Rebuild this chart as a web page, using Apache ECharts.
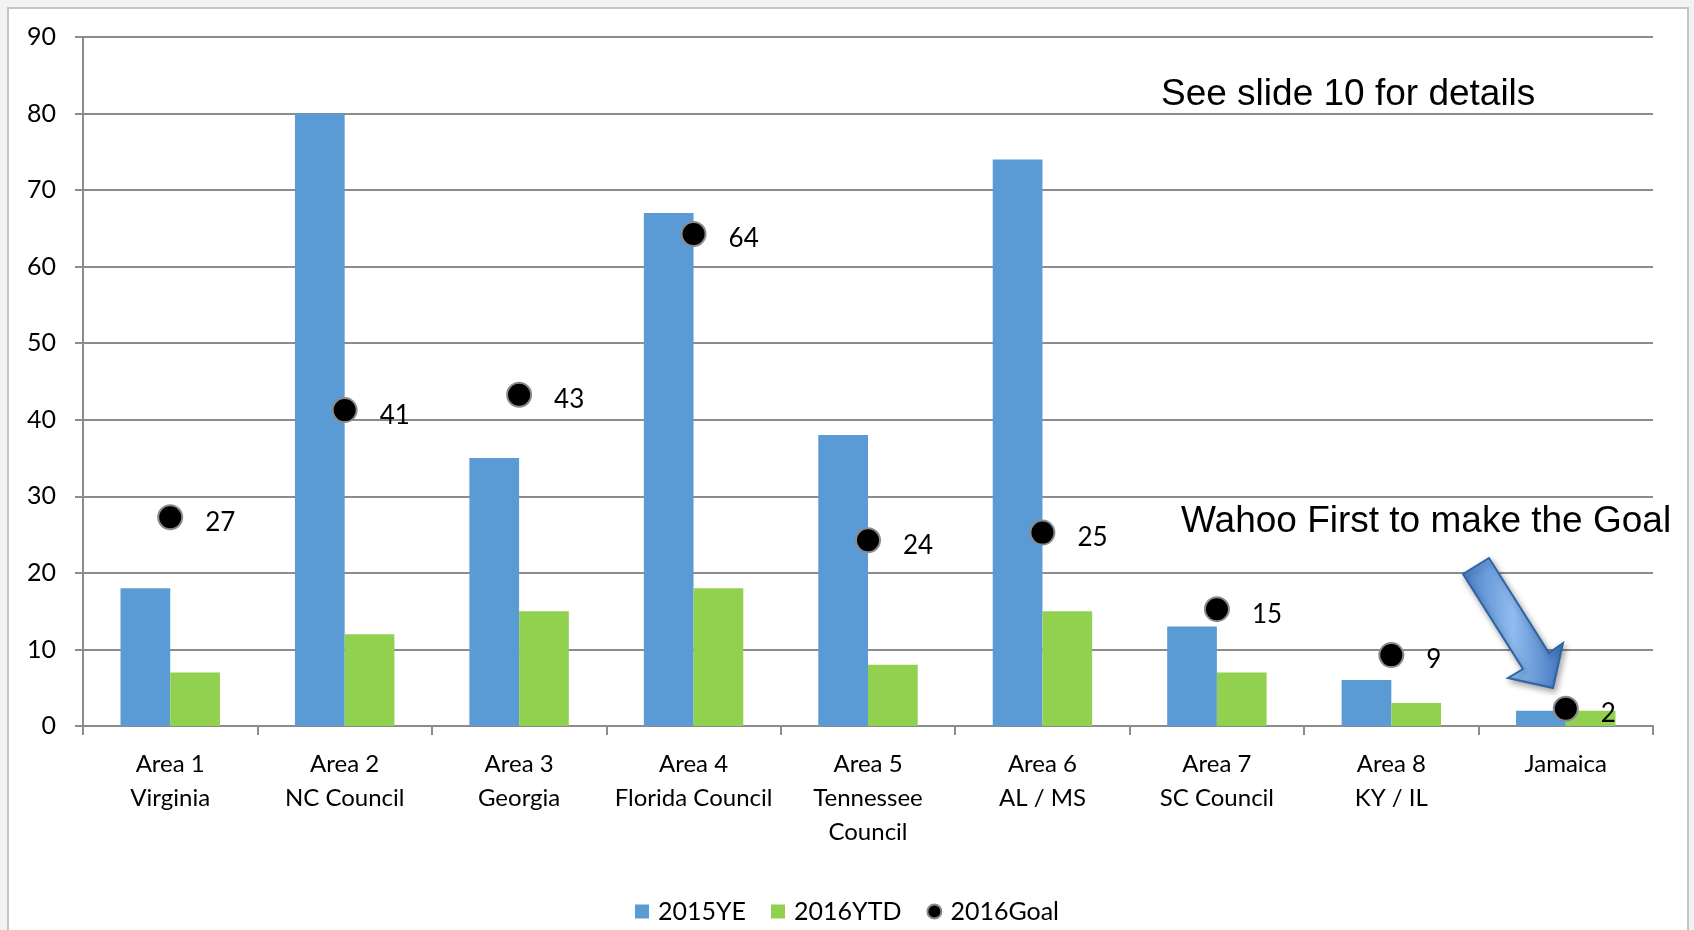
<!DOCTYPE html>
<html>
<head>
<meta charset="utf-8">
<script src="https://cdn.jsdelivr.net/npm/echarts@6/dist/echarts.min.js"></script>
<style>
html,body{margin:0;padding:0;background:#f2f2f2;}
#c{width:1694px;height:930px;}
</style>
</head>
<body>
<div id="c"></div>
<script>
const categories = ['Area 1\nVirginia','Area 2\nNC Council','Area 3\nGeorgia','Area 4\nFlorida Council','Area 5\nTennessee\nCouncil','Area 6\nAL / MS','Area 7\nSC Council','Area 8\nKY / IL','Jamaica'];
const ye2015 = [18, 80, 35, 67, 38, 74, 13, 6, 2];
const ytd2016 = [7, 12, 15, 18, 8, 15, 7, 3, 2];
const goal2016 = [27, 41, 43, 64, 24, 25, 15, 9, 2];
const yTicks = [0, 10, 20, 30, 40, 50, 60, 70, 80, 90];

const FONT = 'Lato';
const chart = echarts.init(document.getElementById('c'));
const axisGray = '#8c8c8c';
chart.setOption({
  backgroundColor: '#f2f2f2',
  animation: false,
  grid: {left: 83, right: 41, top: 37, bottom: 204},
  legend: {
    bottom: 1, left: 'center',
    itemWidth: 14, itemHeight: 14, itemGap: 25,
    textStyle: {fontFamily: FONT, fontSize: 25, color: '#000', padding: [0, 0, 0, 4]},
    data: [
      {name: '2015YE', icon: 'rect'},
      {name: '2016YTD', icon: 'rect'},
      {name: '2016Goal', icon: 'circle', itemStyle: {color: '#000', opacity: 1, borderColor: '#8a8a8a', borderWidth: 2}}
    ]
  },
  xAxis: {
    type: 'category', data: categories,
    axisLine: {lineStyle: {color: axisGray, width: 2}},
    axisTick: {show: true, length: 9, lineStyle: {color: axisGray, width: 2}},
    axisLabel: {fontFamily: FONT, fontSize: 24, color: '#000', lineHeight: 34, margin: 21, interval: 0}
  },
  yAxis: {
    type: 'value', min: yTicks[0], max: yTicks[yTicks.length - 1], interval: 10,
    axisLine: {show: true, lineStyle: {color: axisGray, width: 2}},
    axisTick: {show: true, length: 8, lineStyle: {color: axisGray, width: 2}},
    splitLine: {lineStyle: {color: axisGray, width: 2}},
    axisLabel: {fontFamily: FONT, fontSize: 25, color: '#000', margin: 27}
  },
  series: [
    {name: '2015YE', type: 'bar', data: ye2015, barGap: '0%', barCategoryGap: '43%', itemStyle: {color: '#5B9BD5'}},
    {name: '2016YTD', type: 'bar', data: ytd2016, itemStyle: {color: '#92D050'}},
    {name: '2016Goal', type: 'scatter', data: goal2016, symbol: 'circle', symbolSize: 24, symbolOffset: [0, -2], z: 5,
      itemStyle: {color: '#000', opacity: 1, borderColor: '#8a8a8a', borderWidth: 2},
      label: {show: true, position: 'right', distance: 22, offset: [0, 5], fontFamily: FONT, fontSize: 26, color: '#000'}}
  ],
  graphic: [
    {type: 'rect', z: -10, shape: {x: 8, y: 8, width: 1680, height: 940}, style: {fill: '#fff', stroke: '#c4c4c4', lineWidth: 2}},
    {type: 'text', left: 1161, top: 76, z: 10, style: {text: 'See slide 10 for details', font: '37px "Liberation Sans"', fill: '#000'}},
    {type: 'text', left: 1181, top: 503, z: 10, style: {text: 'Wahoo First to make the Goal', font: '37px "Liberation Sans"', fill: '#000'}},
    {type: 'polygon', z: 10,
      shape: {points: [[1463,574],[1523,669],[1508,678],[1553,688],[1563,643],[1549,653],[1489,558]]},
      style: {
        fill: new echarts.graphic.LinearGradient(0, 0, 1, 0, [{offset: 0, color: '#4a80c9'}, {offset: 0.5, color: '#8fbcf0'}, {offset: 1, color: '#3f74be'}]),
        stroke: '#2c64a6', lineWidth: 2,
        shadowBlur: 6, shadowColor: 'rgba(0,0,0,0.35)', shadowOffsetX: 2, shadowOffsetY: 3
      }}
  ]
});
</script>
</body>
</html>
